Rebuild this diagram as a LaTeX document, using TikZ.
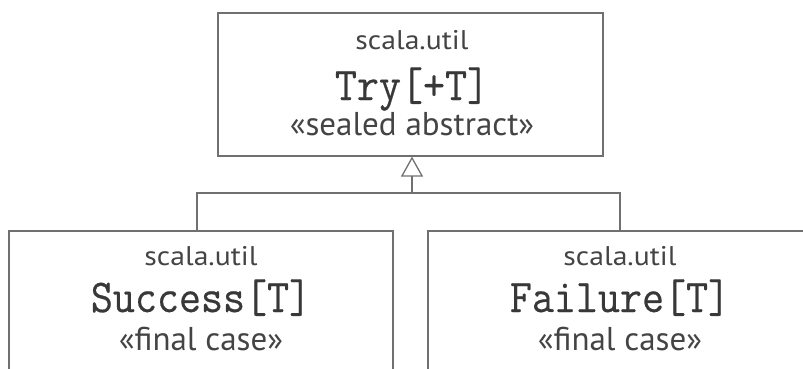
\documentclass[tikz,border=0pt]{standalone}
\usepackage{fontspec}
\setmainfont{PT Sans}
\newfontfamily\clsfont[FakeBold=0.5]{Latin Modern Mono}
\usepackage{graphicx}
\usetikzlibrary{arrows.meta}
\definecolor{txt}{HTML}{444444}
\definecolor{clstxt}{HTML}{383838}
\definecolor{ln}{HTML}{707070}
\begin{document}
\begin{tikzpicture}[x=1pt,y=-1pt,
 box/.style={draw=ln,line width=1.6pt,rectangle,inner sep=0pt,anchor=north west},
 pkg/.style={font=\fontsize{27}{27}\selectfont,text=txt,anchor=base,inner sep=0pt},
 cls/.style={font=\fontsize{47}{47}\selectfont\clsfont,text=clstxt,anchor=base,inner sep=0pt},
 ster/.style={font=\fontsize{33}{33}\selectfont,text=txt,anchor=base,inner sep=0pt},
 conn/.style={draw=ln,line width=1.6pt}]
\useasboundingbox (0,0) rectangle (803,369);
\clip (0,0) rectangle (803,369);
\node[box,minimum width=385pt,minimum height=143pt] (top) at (217,12) {};
\node[box,minimum width=384pt,minimum height=200pt] (lbox) at (8,230) {};
\node[box,minimum width=384pt,minimum height=200pt] (rbox) at (427,230) {};
\node[pkg] (tpkg) at (412,49) {\scalebox{1.1}[1]{scala.util}};
\node[cls] (tcls) at (412,100) {\scalebox{0.91}[1]{Try[+T]}};
\node[ster] (tst) at (412,135) {«sealed abstract»};
\node[pkg] (lpkg) at (201,265) {\scalebox{1.1}[1]{scala.util}};
\node[cls] (lcls) at (201,312) {\scalebox{0.91}[1]{Success[T]}};
\node[ster] (lst) at (201,350) {«final case»};
\node[pkg] (rpkg) at (620,265) {\scalebox{1.1}[1]{scala.util}};
\node[cls] (rcls) at (620,312) {\scalebox{0.91}[1]{Failure[T]}};
\node[ster] (rst) at (620,350) {«final case»};
\coordinate (j) at (412,193);
\draw[conn,-{Triangle[open,length=20pt,width=22pt,line width=1.3pt]}] (j) -- (j |- top.south);
\draw[conn] ([xshift=-4pt]lbox.north) |- (j) -| (rbox.north);
\end{tikzpicture}
\end{document}
